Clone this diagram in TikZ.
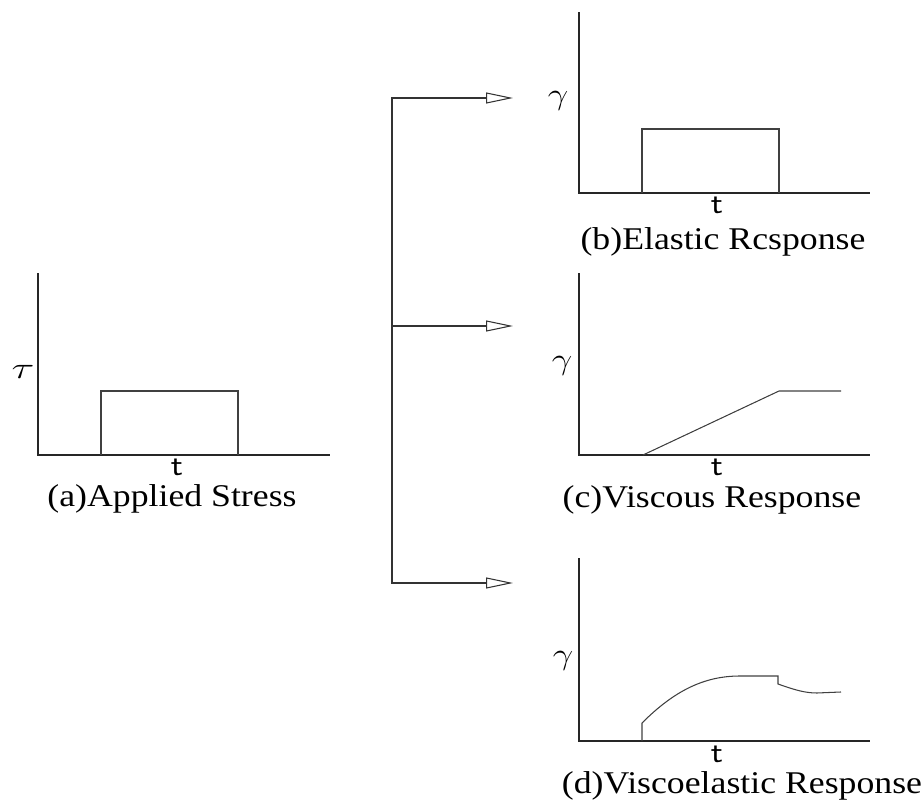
\documentclass[tikz,border=0pt]{standalone}
\usepackage{fontspec}
\setmainfont{Liberation Serif}
\usetikzlibrary{arrows.meta, positioning, calc}
\tikzset{
  axis/.style={draw=black!85, line width=0.6pt}, % axes of each plot
  curve/.style={draw=black!75, line width=0.6pt}, % response curves
  caption/.style={font=\fontsize{18}{20}\selectfont, xscale=1.13, inner sep=0pt},
  varlabel/.style={font=\fontsize{19}{21}\selectfont, inner sep=0pt},
  timelabel/.style={font=\sffamily\fontsize{17}{19}\selectfont, xscale=1.2, inner sep=0pt},
  branch/.style={draw=black!80, line width=0.6pt, -{Triangle[open, length=5.4mm, width=2.2mm]}}
}

\begin{document}
\begin{tikzpicture}[x=0.02cm, y=-0.02cm]
    \useasboundingbox (0,0) rectangle (921,801);

    % Axes
    \coordinate (originA) at (38,455);
    \coordinate (originB) at (579,193);
    \coordinate (originC) at (579,455);
    \coordinate (originD) at (579,741);
    \draw[axis] (38,273) -- (originA) -- (330,455);
    \draw[axis] (579,12) -- (originB) -- (870,193);
    \draw[axis] (579,273) -- (originC) -- (870,455);
    \draw[axis] (579,558) -- (originD) -- (870,741);

    % Curves
    \draw[curve] (101,455) |- (238,391) -- (238,455);
    \draw[curve] (642,193) |- (779,129) -- (779,193);
    \draw[curve] (643,455) -- (779,391) -- (841,391);
    \draw[curve] (642,741) -- (642,723) .. controls (675,690) and (705,676) .. (740,676)
        -- (778,676) -- (778,684) .. controls (795,690) and (805,693) .. (817,693) -- (841,692);

    % Nodes
    \node[varlabel, xscale=1.4] (tau) at (23,372) {$\tau$};
    \node[varlabel, xscale=1.2] (gammaB) at (558,101) {$\gamma$};
    \node[varlabel, xscale=1.2] (gammaC) at (562,366) {$\gamma$};
    \node[varlabel, xscale=1.2] (gammaD) at (563,661) {$\gamma$};
    \node[timelabel] (timeA) at (177,467) {t};
    \node[timelabel] (timeB) at (717,205) {t};
    \node[timelabel] (timeC) at (717,467) {t};
    \node[timelabel] (timeD) at (717,754) {t};
    \node[caption] (capA) at (172,499) {(a)Applied Stress};
    \node[caption] (capB) at (723,242) {(b)Elastic Rcsponse};
    \node[caption] (capC) at (712,500) {(c)Viscous Response};
    \node[caption] (capD) at (742,786) {(d)Viscoelastic Response};

    % Edges
    \coordinate (split) at (392,326);
    \coordinate (toB) at (513,98);
    \coordinate (toC) at (513,326);
    \coordinate (toD) at (513,583);
    \draw[branch] (split) |- (toB);
    \draw[branch] (split) -- (toC);
    \draw[branch] (split) |- (toD);
\end{tikzpicture}
\end{document}
